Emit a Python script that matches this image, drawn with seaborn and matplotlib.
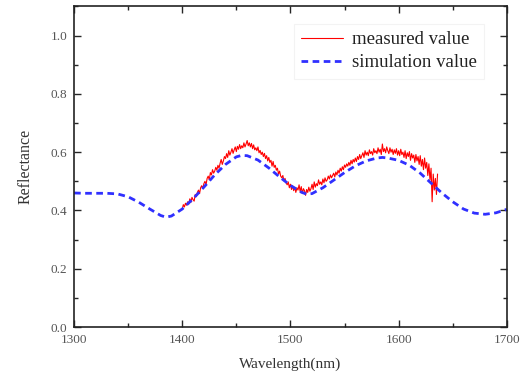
import numpy as np
import pandas as pd
import matplotlib
matplotlib.use("Agg")
import matplotlib.pyplot as plt
from matplotlib.ticker import MultipleLocator
import seaborn as sns

# simulation curve (every 10 nm)
sim_wl = [1300, 1310, 1320, 1330, 1340, 1350, 1360, 1370, 1380, 1385, 1390, 1400,
          1410, 1420, 1430, 1440, 1450, 1455, 1460, 1470, 1480, 1490, 1500, 1510,
          1515, 1520, 1530, 1540, 1550, 1560, 1570, 1580, 1585, 1590, 1600, 1610,
          1620, 1630, 1640, 1650, 1660, 1670, 1680, 1690, 1700]
sim_val = [0.460, 0.459, 0.459, 0.459, 0.457, 0.447, 0.428, 0.405, 0.383, 0.377, 0.381, 0.405,
           0.440, 0.480, 0.522, 0.558, 0.584, 0.589, 0.588, 0.573, 0.546, 0.515, 0.486, 0.463,
           0.456, 0.458, 0.478, 0.504, 0.530, 0.553, 0.570, 0.580, 0.582, 0.580, 0.572, 0.555,
           0.528, 0.494, 0.460, 0.430, 0.405, 0.391, 0.387, 0.392, 0.404]

# measured curve (every 1 nm, 1400-1636)
meas_wl = list(range(1400, 1637))
meas_val = [
    0.405, 0.420, 0.412, 0.425, 0.418, 0.430, 0.422, 0.440, 0.428, 0.445, 0.437, 0.432, 0.455, 0.448, 0.462, 0.470, 0.458, 0.478, 0.485, 0.475,
    0.492, 0.500, 0.488, 0.510, 0.518, 0.505, 0.530, 0.522, 0.540, 0.528, 0.535, 0.548, 0.538, 0.555, 0.545, 0.562, 0.575, 0.558, 0.570, 0.585,
    0.578, 0.595, 0.582, 0.605, 0.590, 0.600, 0.612, 0.596, 0.608, 0.618, 0.602, 0.620, 0.610, 0.626, 0.612, 0.622, 0.615, 0.632, 0.618, 0.628,
    0.640, 0.622, 0.632, 0.618, 0.630, 0.612, 0.625, 0.608, 0.615, 0.605, 0.618, 0.598, 0.606, 0.592, 0.600, 0.585, 0.596, 0.578, 0.588, 0.570,
    0.582, 0.565, 0.572, 0.552, 0.568, 0.548, 0.555, 0.538, 0.545, 0.525, 0.535, 0.518, 0.512, 0.520, 0.502, 0.510, 0.495, 0.488, 0.498, 0.478,
    0.490, 0.472, 0.485, 0.468, 0.480, 0.462, 0.478, 0.470, 0.488, 0.465, 0.482, 0.458, 0.475, 0.468, 0.452, 0.472, 0.462, 0.480, 0.466, 0.475,
    0.490, 0.472, 0.498, 0.480, 0.492, 0.485, 0.505, 0.490, 0.498, 0.488, 0.508, 0.495, 0.512, 0.500, 0.505, 0.518, 0.508, 0.522, 0.512, 0.520,
    0.528, 0.515, 0.532, 0.522, 0.538, 0.528, 0.545, 0.535, 0.550, 0.540, 0.556, 0.548, 0.560, 0.552, 0.565, 0.555, 0.572, 0.560, 0.575, 0.566,
    0.580, 0.568, 0.585, 0.575, 0.592, 0.578, 0.588, 0.598, 0.582, 0.605, 0.590, 0.600, 0.588, 0.608, 0.595, 0.602, 0.590, 0.612, 0.598, 0.605,
    0.595, 0.615, 0.600, 0.610, 0.592, 0.628, 0.602, 0.612, 0.598, 0.618, 0.605, 0.595, 0.615, 0.600, 0.610, 0.592, 0.608, 0.596, 0.612, 0.590,
    0.605, 0.588, 0.610, 0.592, 0.600, 0.582, 0.605, 0.578, 0.598, 0.585, 0.602, 0.572, 0.595, 0.580, 0.590, 0.565, 0.592, 0.570, 0.585, 0.558,
    0.588, 0.552, 0.575, 0.540, 0.580, 0.545, 0.565, 0.520, 0.560, 0.505, 0.545, 0.430, 0.525, 0.470, 0.510, 0.455, 0.525,
]

x_ticks = [1300, 1400, 1500, 1600, 1700]
y_ticks = [0.0, 0.2, 0.4, 0.6, 0.8, 1.0]

sns.set_style("ticks")
plt.rcParams['font.family'] = ['Liberation Serif', 'DejaVu Serif']
plt.rcParams['xtick.direction'] = 'in'
plt.rcParams['ytick.direction'] = 'in'

fig = plt.figure(figsize=(5.29, 3.76), dpi=100)
ax = fig.add_axes([0.140, 0.130, 0.818, 0.853])

meas_df = pd.DataFrame({"wl": meas_wl, "val": meas_val})
sim_df = pd.DataFrame({"wl": sim_wl, "val": sim_val})

sns.lineplot(data=meas_df, x="wl", y="val", ax=ax, color="#ff0000", lw=0.8,
             label="measured value")
sns.lineplot(data=sim_df, x="wl", y="val", ax=ax, color="#3030ff", lw=2.0,
             dashes=False, label="simulation value", linestyle=(0, (2.4, 1.6)))

ax.set_xlim(1300, 1700)
ax.set_ylim(0, 1.1)
ax.set_xticks(x_ticks)
ax.set_xticklabels([str(t) for t in x_ticks])
ax.set_yticks(y_ticks)
ax.set_yticklabels([f"{t:.1f}" for t in y_ticks])
ax.xaxis.set_minor_locator(MultipleLocator(50))
ax.yaxis.set_minor_locator(MultipleLocator(0.1))
ax.tick_params(which='both', top=True, right=True, direction='in', width=1.0,
               labelsize=9.5, labelcolor='#555555', pad=5)
ax.tick_params(which='major', length=5)
ax.tick_params(which='minor', length=3)
for s in ax.spines.values():
    s.set_linewidth(1.2)
    s.set_color('#222222')

ax.set_xlabel("Wavelength(nm)", fontsize=11, color='#333333', labelpad=8)
ax.set_ylabel("Reflectance", fontsize=11.5, color='#333333', labelpad=12)

leg = ax.legend(loc='upper right', bbox_to_anchor=(0.97, 0.975), fontsize=13.5,
                frameon=True, fancybox=False, handlelength=2.2, handletextpad=0.5,
                borderpad=0.4, labelspacing=0.3)
leg.get_frame().set_edgecolor('#f0f0f0')
leg.get_frame().set_linewidth(0.8)
for t in leg.get_texts():
    t.set_color('#222222')

fig.savefig("out.png", dpi=100)
